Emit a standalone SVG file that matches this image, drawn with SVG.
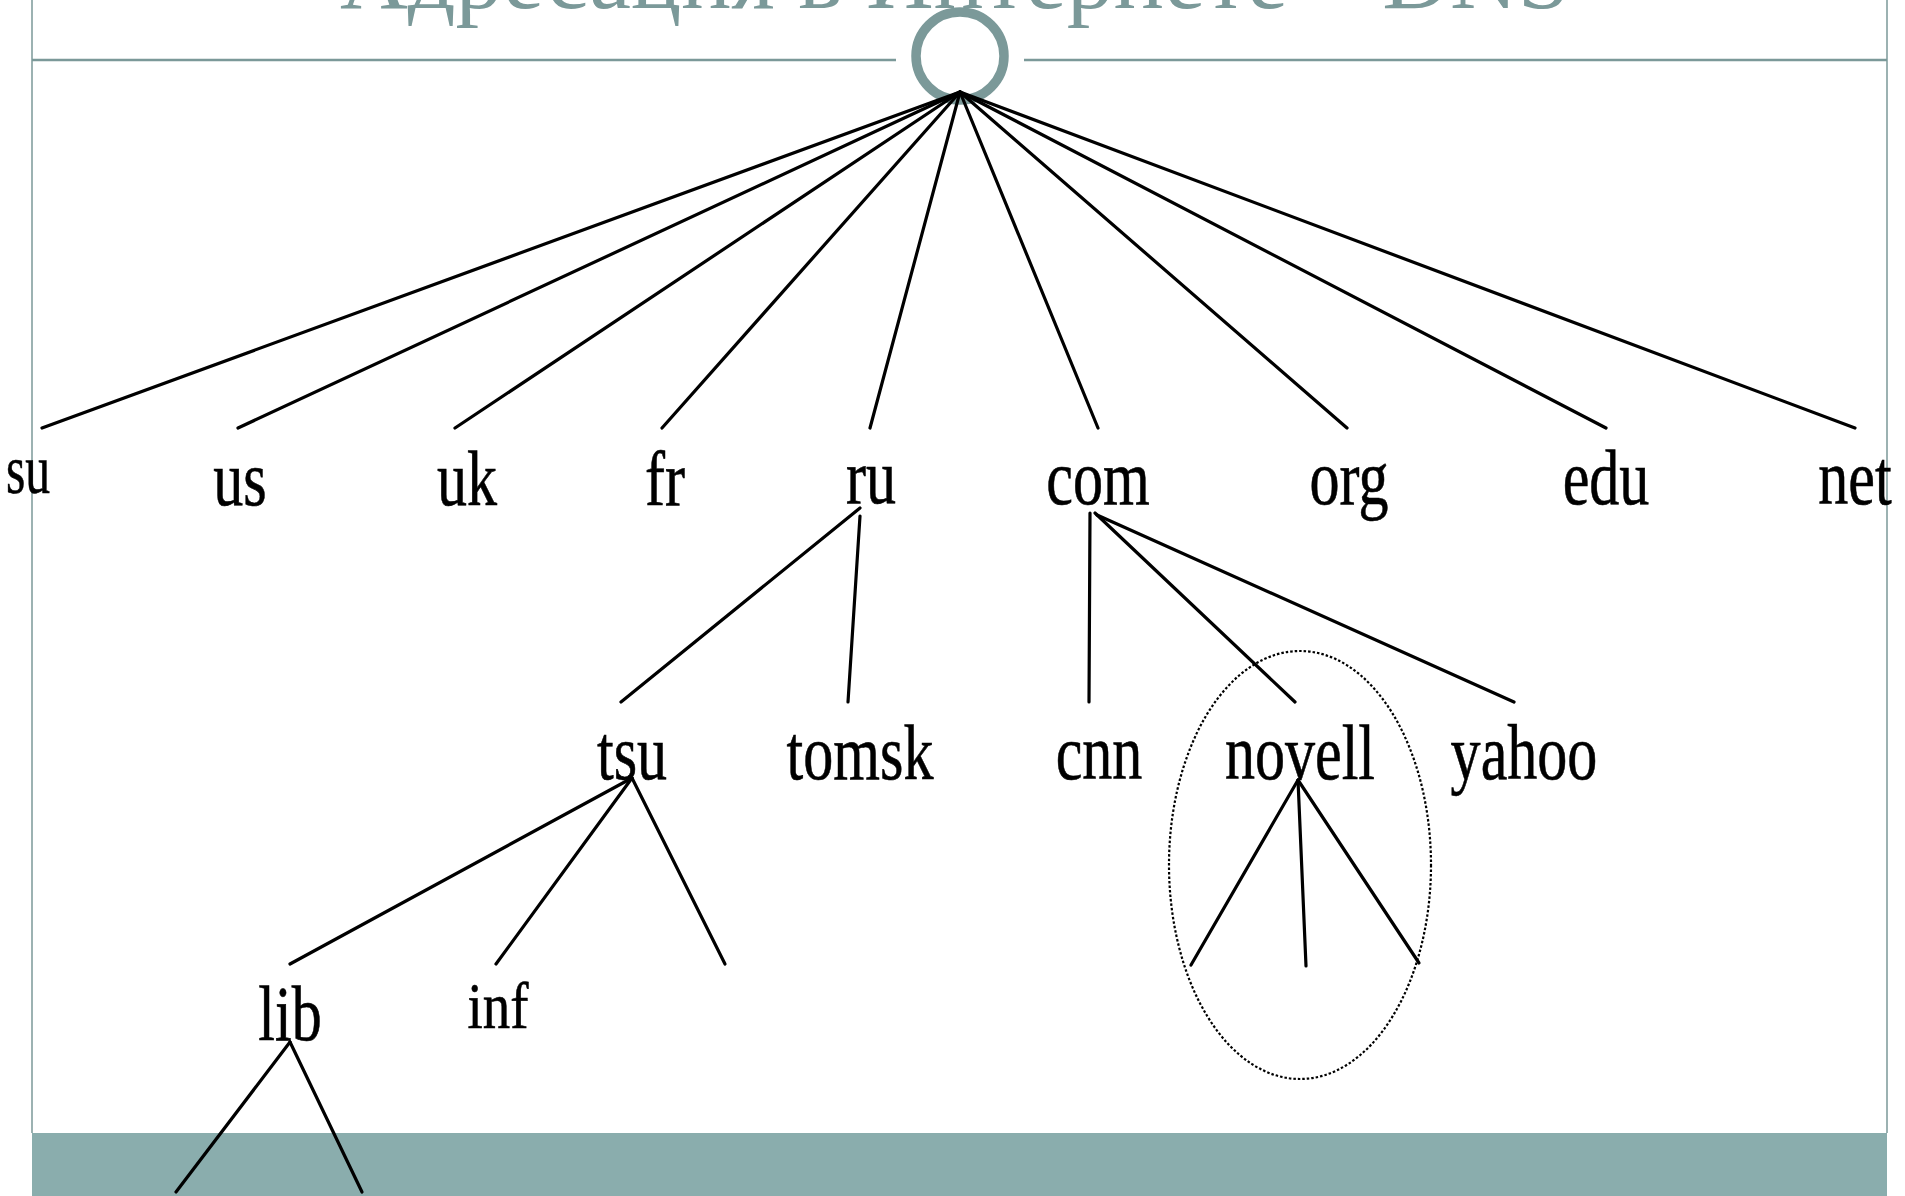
<svg xmlns="http://www.w3.org/2000/svg" width="1905" height="1196" viewBox="0 0 1905 1196">
<style>
.frame{stroke:#7B9999;stroke-width:1.5;fill:none}
.rule{stroke:#7B9999;stroke-width:2.5;fill:none}
.title{font-family:"Liberation Serif","Times New Roman",serif;font-size:94px;fill:#7B9999}
.lbl{font-family:"Liberation Serif","Times New Roman",serif;font-size:78px;fill:#000;stroke:#000;stroke-width:0.6;text-anchor:middle}
.edge{stroke:#000;stroke-width:3.2;fill:none;stroke-linecap:round}
.dots{stroke:#000;stroke-width:2.2;fill:none;stroke-dasharray:2.5 2}
</style>
<rect x="0" y="0" width="1905" height="1196" fill="#fff"/>
<g id="slide">
<text class="title" x="955" y="8" text-anchor="middle" textLength="1230" lengthAdjust="spacingAndGlyphs">Адресация в Интернете – DNS</text>
<line class="frame" x1="32" y1="0" x2="32" y2="1133"/>
<line class="frame" x1="1887" y1="0" x2="1887" y2="1133"/>
<line class="rule" x1="32" y1="60" x2="896" y2="60"/>
<line class="rule" x1="1024" y1="60" x2="1887" y2="60"/>
<circle cx="960" cy="56" r="44" fill="none" stroke="#7B9999" stroke-width="9.5"/>
<rect x="32" y="1133" width="1855" height="63" fill="#8AADAD"/>
</g>
<g id="connectors">
<line class="edge" x1="960" y1="92" x2="42" y2="428"/>
<line class="edge" x1="960" y1="92" x2="238" y2="428"/>
<line class="edge" x1="960" y1="92" x2="455" y2="428"/>
<line class="edge" x1="960" y1="92" x2="662" y2="428"/>
<line class="edge" x1="960" y1="92" x2="870" y2="428"/>
<line class="edge" x1="960" y1="92" x2="1098" y2="428"/>
<line class="edge" x1="960" y1="92" x2="1347" y2="428"/>
<line class="edge" x1="960" y1="92" x2="1606" y2="428"/>
<line class="edge" x1="960" y1="92" x2="1855" y2="428"/>
<line class="edge" x1="860" y1="508" x2="621" y2="702"/>
<line class="edge" x1="860" y1="516" x2="848" y2="702"/>
<line class="edge" x1="1090" y1="513" x2="1089" y2="702"/>
<line class="edge" x1="1095" y1="513" x2="1295" y2="702"/>
<line class="edge" x1="1097" y1="515" x2="1514" y2="702"/>
<line class="edge" x1="632" y1="778" x2="290" y2="964"/>
<line class="edge" x1="632" y1="778" x2="496" y2="964"/>
<line class="edge" x1="632" y1="778" x2="725" y2="964"/>
<line class="edge" x1="290" y1="1042" x2="176" y2="1192"/>
<line class="edge" x1="290" y1="1042" x2="362" y2="1192"/>
<line class="edge" x1="1298" y1="780" x2="1191" y2="965"/>
<line class="edge" x1="1298" y1="780" x2="1306" y2="966"/>
<line class="edge" x1="1298" y1="780" x2="1419" y2="963"/>
</g>
<g id="n-su"><text class="lbl" style="font-size:69px" transform="translate(28,493) scale(0.72,1)">su</text></g>
<g id="n-us"><text class="lbl" transform="translate(240,505) scale(0.77,1)">us</text></g>
<g id="n-uk"><text class="lbl" transform="translate(467,505) scale(0.77,1)">uk</text></g>
<g id="n-fr"><text class="lbl" transform="translate(665,505) scale(0.77,1)">fr</text></g>
<g id="n-ru"><text class="lbl" transform="translate(871,503) scale(0.77,1)">ru</text></g>
<g id="n-com"><text class="lbl" transform="translate(1098,504) scale(0.77,1)">com</text></g>
<g id="n-org"><text class="lbl" transform="translate(1349,504) scale(0.77,1)">org</text></g>
<g id="n-edu"><text class="lbl" transform="translate(1606,504) scale(0.77,1)">edu</text></g>
<g id="n-net"><text class="lbl" transform="translate(1855,504) scale(0.77,1)">net</text></g>
<g id="n-tsu"><text class="lbl" transform="translate(632,779) scale(0.77,1)">tsu</text></g>
<g id="n-tomsk"><text class="lbl" transform="translate(860,779) scale(0.77,1)">tomsk</text></g>
<g id="n-cnn"><text class="lbl" transform="translate(1099,779) scale(0.77,1)">cnn</text></g>
<g id="n-novell"><text class="lbl" transform="translate(1300,779) scale(0.77,1)">novell</text>
<ellipse class="dots" cx="1300" cy="865" rx="131" ry="214"/></g>
<g id="n-yahoo"><text class="lbl" transform="translate(1524,779) scale(0.77,1)">yahoo</text></g>
<g id="n-lib"><text class="lbl" transform="translate(290,1040) scale(0.77,1)">lib</text></g>
<g id="n-inf"><text class="lbl" style="font-size:66px" transform="translate(498,1028) scale(0.83,1)">inf</text></g>
</svg>
